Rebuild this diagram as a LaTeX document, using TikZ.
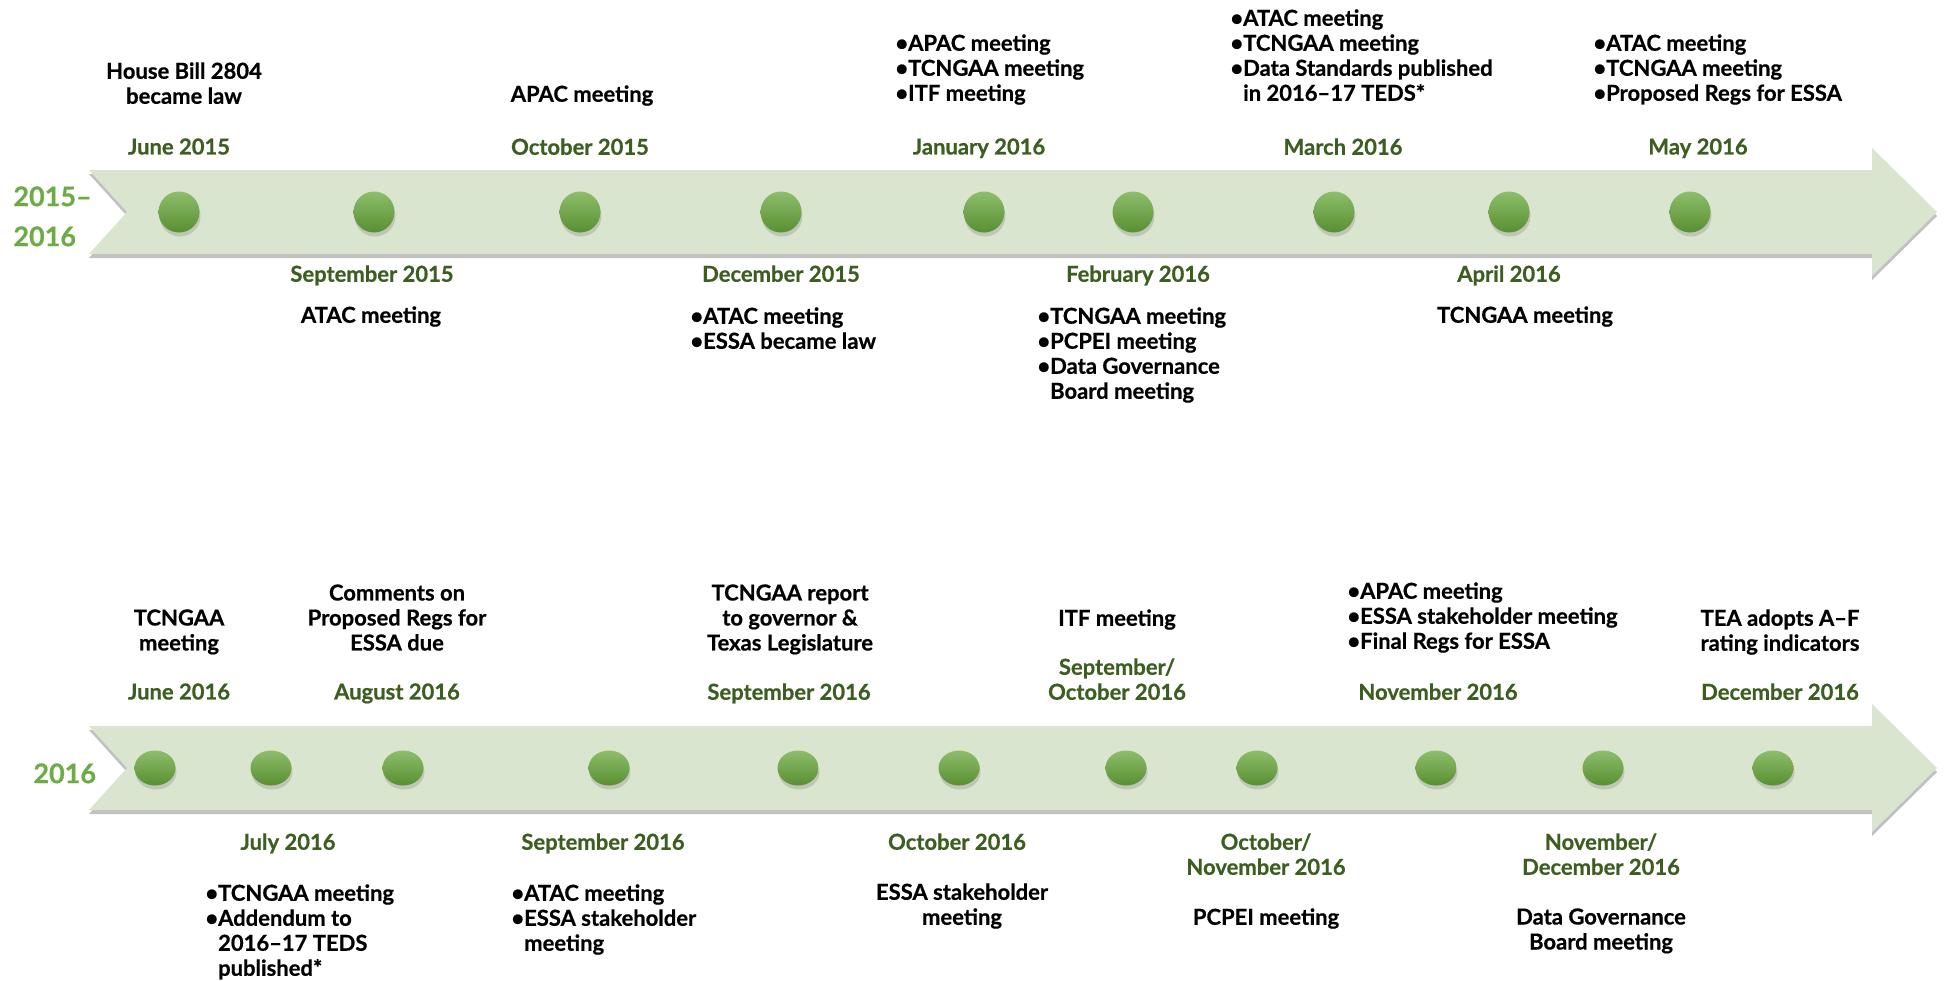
\documentclass[tikz,border=0pt]{standalone}
\usepackage{fontspec}
\setmainfont{Lato}[BoldFeatures={FakeBold=0.6}]
\usetikzlibrary{shadows,shapes.geometric}

\definecolor{bandgreen}{RGB}{217,229,207}
\definecolor{dotgreen}{RGB}{104,168,58}
\definecolor{dategreen}{RGB}{60,94,32}
\definecolor{yeargreen}{RGB}{108,172,70}

\newcommand\evfont{\bfseries\fontsize{11}{12.5}\selectfont}

\tikzset{
  band/.style={fill=bandgreen,drop shadow={shadow xshift=0pt,shadow yshift=-2pt,opacity=.35,fill=black!70}},
  dotnode/.style={ellipse,inner sep=0,minimum width=20.5pt,minimum height=#1,
    top color=dotgreen!75!white,bottom color=dotgreen!85!black,
    drop shadow={shadow xshift=.5pt,shadow yshift=-2pt,opacity=.3}},
  datelbl/.style={font=\evfont,text=dategreen,align=center,anchor=north,inner sep=0},
  evlbl/.style={font=\evfont,align=center,anchor=north,inner sep=0},
  bullets/.style={font=\evfont,align=left,anchor=north west,inner sep=0},
  yearlbl/.style={font=\bfseries\fontsize{13.5}{20}\selectfont,text=yeargreen,align=left,anchor=north west,inner sep=0}
}

\begin{document}
\begin{tikzpicture}[x=.5pt,y=-.5pt]
  \useasboundingbox (0,0) rectangle (1946,980);

  % the two arrows
  \foreach \y in {212,768}
    \fill[band] (89,\y-42) -- (1872,\y-42) -- (1872,\y-64) -- (1937,\y)
      -- (1872,\y+64) -- (1872,\y+42) -- (89,\y+42) -- (127,\y) -- cycle;

  \node[yearlbl] (y1) at (13,186) {2015–\\2016};
  \node[yearlbl] (y2) at (33,763) {2016};

  % dots
  \foreach \x [count=\i] in {179,374,580,781,984,1133,1334,1509,1690}
    \node[dotnode=20.5pt] (t\i) at (\x,212) {};
  \foreach \x [count=\i] in {155,271,403,609,798,959,1126,1257,1436,1603,1773}
    \node[dotnode=17.5pt] (b\i) at (\x,768) {};

  % 2015--2016
  \foreach \x/\d in {179/June 2015,580/October 2015,979/January 2016,1343/March 2016,1698/May 2016}
    \node[datelbl] at (\x,138) {\d};
  \foreach \x/\d in {372/September 2015,781/December 2015,1138/February 2016,1509/April 2016}
    \node[datelbl] at (\x,265) {\d};

  \node[evlbl] (hb) at (184,62) {House Bill 2804\\became law};
  \node[evlbl] (oct15) at (582,85) {APAC meeting};
  \node[bullets] (jan16) at (895,34) {•APAC meeting\\•TCNGAA meeting\\•ITF meeting};
  \node[bullets] (mar16) at (1230,9) {•ATAC meeting\\•TCNGAA meeting\\•Data Standards published\\\phantom{•}in 2016–17 TEDS*};
  \node[bullets] (may16) at (1593,34) {•ATAC meeting\\•TCNGAA meeting\\•Proposed Regs for ESSA};

  \node[evlbl] (sep15) at (371,306) {ATAC meeting};
  \node[bullets] (dec15) at (690,307) {•ATAC meeting\\•ESSA became law};
  \node[bullets] (feb16) at (1037,307) {•TCNGAA meeting\\•PCPEI meeting\\•Data Governance\\\phantom{•}Board meeting};
  \node[evlbl] (apr16) at (1525,306) {TCNGAA meeting};

  % 2016
  \foreach \x/\d in {179/June 2016,397/August 2016,789/September 2016,1438/November 2016,1780/December 2016}
    \node[datelbl] at (\x,683) {\d};
  \node[datelbl] at (1117,658) {September/\\October 2016};
  \foreach \x/\d in {288/July 2016,603/September 2016,957/October 2016}
    \node[datelbl] at (\x,833) {\d};
  \node[datelbl] at (1266,833) {October/\\November 2016};
  \node[datelbl] at (1601,833) {November/\\December 2016};

  \node[evlbl] (jun16) at (179,609) {TCNGAA\\meeting};
  \node[evlbl] (aug16) at (397,584) {Comments on\\Proposed Regs for\\ESSA due};
  \node[evlbl] (sepa16) at (790,584) {TCNGAA report\\to governor \&\\Texas Legislature};
  \node[evlbl] (sepoct16) at (1117,609) {ITF meeting};
  \node[bullets] (nov16) at (1347,582) {•APAC meeting\\•ESSA stakeholder meeting\\•Final Regs for ESSA};
  \node[evlbl] (dec16) at (1780,609) {TEA adopts A–F\\rating indicators};

  \node[bullets] (jul16) at (205,884) {•TCNGAA meeting\\•Addendum to\\\phantom{•}2016–17 TEDS\\\phantom{•}published*};
  \node[bullets] (sepb16) at (511,884) {•ATAC meeting\\•ESSA stakeholder\\\phantom{•}meeting};
  \node[evlbl] (oct16) at (962,883) {ESSA stakeholder\\meeting};
  \node[evlbl] (octnov16) at (1266,908) {PCPEI meeting};
  \node[evlbl] (novdec16) at (1601,908) {Data Governance\\Board meeting};
\end{tikzpicture}
\end{document}
